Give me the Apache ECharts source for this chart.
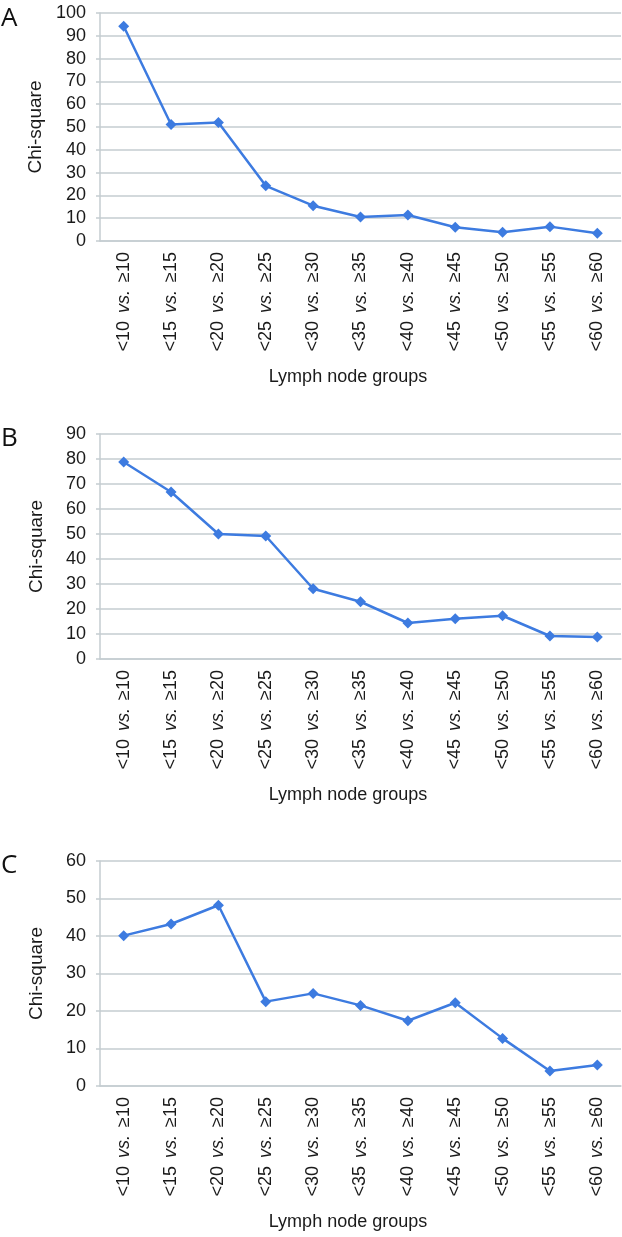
<!DOCTYPE html>
<html><head><meta charset="utf-8">
<script src="https://cdn.jsdelivr.net/npm/echarts@6/dist/echarts.min.js"></script>
<style>html,body{margin:0;padding:0;background:#fff}#c{width:622px;height:1237px}</style>
</head><body><div id="c"></div>
<script>
const categories = ['<10 vs. ≥10','<15 vs. ≥15','<20 vs. ≥20','<25 vs. ≥25','<30 vs. ≥30','<35 vs. ≥35','<40 vs. ≥40','<45 vs. ≥45','<50 vs. ≥50','<55 vs. ≥55','<60 vs. ≥60'];
const valuesA = [94.2, 51.1, 52.0, 24.2, 15.5, 10.5, 11.4, 6.0, 3.8, 6.3, 3.4];
const valuesB = [78.8, 66.8, 50.0, 49.2, 28.1, 22.9, 14.4, 16.1, 17.3, 9.2, 8.8];
const valuesC = [40.1, 43.2, 48.2, 22.5, 24.7, 21.5, 17.4, 22.2, 12.7, 4.0, 5.6];
const yMax = [100, 90, 60];
const panelLetters = ['A', 'B', 'C'];
const yTitle = 'Chi-square';
const xTitle = 'Lymph node groups';

const series = [valuesA, valuesB, valuesC];
const grids = [
  {left: 100, right: 1, top: 13, height: 228},
  {left: 100, right: 1, top: 434, height: 225},
  {left: 100, right: 1, top: 861, height: 225}
];
const gridColor = '#c5cdd1';
const lineColor = '#3d7be0';
const fontFam = '"Liberation Sans", Helvetica, Arial, sans-serif';
const txt = '#1a1a1a';

const xAxes = grids.map((g, i) => ({
  type: 'category', gridIndex: i, data: categories, boundaryGap: true,
  axisLine: {show: true, lineStyle: {color: gridColor, width: 1.5}},
  axisTick: {show: false},
  axisLabel: {
    rotate: 90, margin: 11, interval: 0,
    formatter: v => { const p = v.split(' vs. '); return '{a|' + p[0] + '}{s| }{b|vs.}{s| }{a|' + p[1] + '}'; },
    rich: {
      a: {fontFamily: fontFam, fontSize: 18, color: txt},
      b: {fontFamily: fontFam, fontSize: 18, color: txt, fontStyle: 'italic'},
      s: {fontFamily: fontFam, fontSize: 18, width: 8}
    }
  },
  name: xTitle, nameLocation: 'middle', nameGap: 127,
  nameTextStyle: {fontFamily: fontFam, fontSize: 18, color: txt, padding: [0, 25, 0, 0]}
}));

const yAxes = grids.map((g, i) => ({
  type: 'value', gridIndex: i, min: 0, max: yMax[i], interval: 10,
  axisLine: {show: true, lineStyle: {color: gridColor, width: 1.5}},
  axisTick: {show: true, length: 4, lineStyle: {color: gridColor, width: 1.5}},
  splitLine: {show: true, lineStyle: {color: gridColor, width: 1.5}},
  axisLabel: {fontFamily: fontFam, fontSize: 18, color: txt, margin: 14},
  name: yTitle, nameLocation: 'middle', nameGap: 54, nameRotate: 90,
  nameTextStyle: {fontFamily: fontFam, fontSize: 19, color: txt}
}));

const option = {
  animation: false,
  grid: grids,
  xAxis: xAxes,
  yAxis: yAxes,
  graphic: panelLetters.map((t, i) => ({
    type: 'text', left: 1, top: [6, 426, 853][i],
    style: {text: t, font: '400 26px "Open Sans", Lato, sans-serif', fill: '#111'}
  })),
  series: series.map((d, i) => ({
    type: 'line', xAxisIndex: i, yAxisIndex: i, data: d,
    symbol: 'diamond', symbolSize: 11,
    lineStyle: {color: lineColor, width: 2.5},
    itemStyle: {color: lineColor}
  }))
};
const chart = echarts.init(document.getElementById('c'), null, {renderer: 'canvas'});
chart.setOption(option);
</script></body></html>
